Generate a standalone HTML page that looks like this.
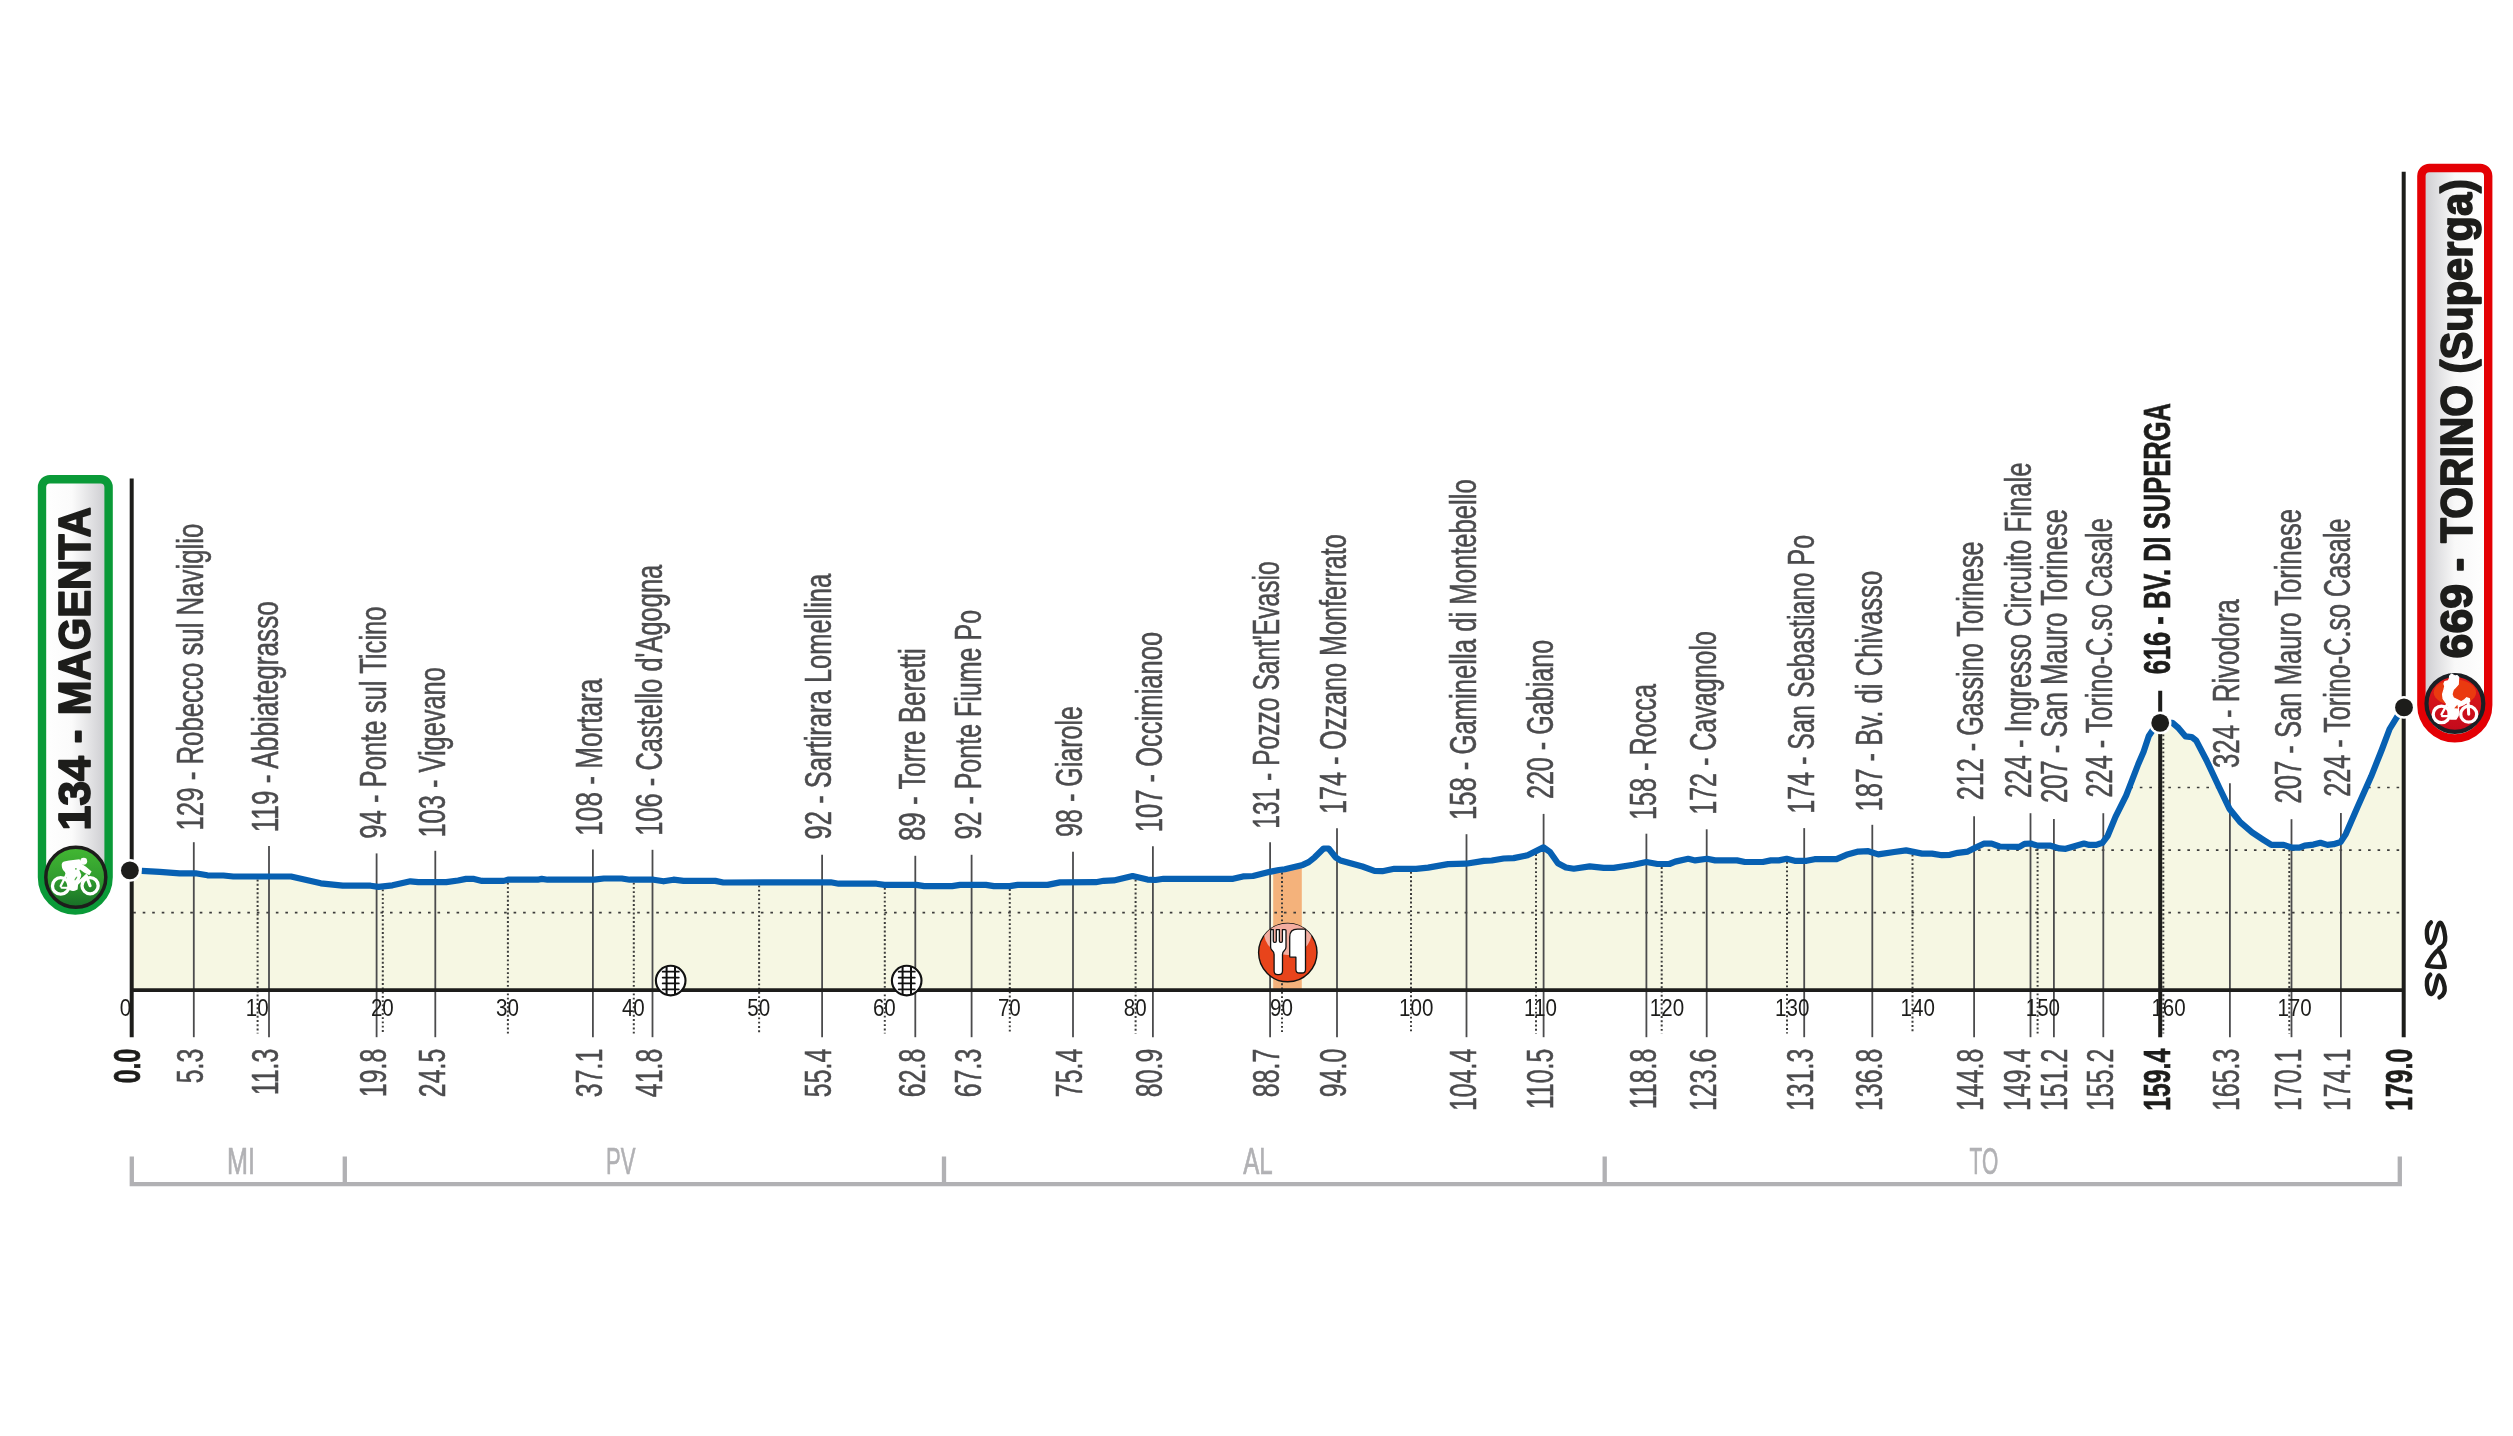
<!DOCTYPE html>
<html><head><meta charset="utf-8"><title>Stage profile</title>
<style>html,body{margin:0;padding:0;background:#fff}svg{display:block}text{font-family:"Liberation Sans",sans-serif}</style>
</head><body>
<svg width="2513" height="1436" viewBox="0 0 2513 1436" style="will-change:transform">
<defs>
<clipPath id="fc"><polygon points="131.7,990.1 131.7,870.5 141.8,870.9 159.7,871.9 179.6,873.3 195.5,873.3 207.4,875.3 223.4,875.5 233.3,876.5 291.0,876.5 320.8,883.3 342.7,885.7 370.6,885.7 378.5,886.9 392.5,885.3 410.4,881.3 418.3,882.1 446.2,882.1 458.1,880.5 466.0,878.9 474.0,878.9 482.0,880.9 503.9,880.9 507.9,879.7 537.7,879.7 541.7,878.9 547.6,879.7 594.0,879.7 603.9,878.5 621.8,878.5 629.7,879.7 653.6,879.7 663.6,881.3 673.5,879.7 683.5,880.9 715.3,880.9 723.3,882.5 830.7,882.3 838.7,883.7 876.5,883.7 884.4,884.9 916.3,884.9 924.2,886.1 952.1,886.1 960.0,884.9 985.9,884.9 993.9,886.1 1009.8,886.1 1017.7,884.9 1047.6,884.9 1060.0,882.4 1095.8,882.2 1103.8,880.8 1113.7,880.4 1132.6,876.0 1147.5,879.6 1155.5,880.0 1163.5,878.8 1233.1,878.8 1243.0,876.4 1253.0,876.0 1270.9,871.6 1278.9,870.0 1284.8,869.2 1302.7,864.9 1308.7,862.1 1314.7,857.3 1323.6,848.5 1328.6,848.5 1335.6,857.3 1340.5,860.5 1362.4,866.5 1374.4,870.8 1382.3,871.2 1394.3,868.8 1416.1,868.8 1428.1,867.6 1448.0,864.1 1465.9,863.7 1483.8,860.9 1491.8,860.5 1503.7,858.5 1513.6,858.1 1527.6,855.3 1543.5,847.4 1550.0,852.0 1557.9,863.2 1565.9,867.5 1573.8,868.7 1589.7,866.4 1603.7,867.9 1613.6,867.9 1633.5,864.8 1646.4,862.0 1657.4,864.0 1669.3,864.0 1675.3,861.6 1688.2,858.8 1695.2,860.4 1707.1,858.8 1715.1,860.4 1737.0,860.4 1744.9,862.0 1762.8,862.0 1770.8,860.4 1778.8,860.4 1786.7,858.8 1794.7,860.8 1806.6,860.8 1814.6,859.2 1836.5,859.2 1846.4,854.8 1858.3,851.6 1868.3,851.2 1878.2,854.4 1894.2,852.0 1906.1,850.4 1922.0,853.6 1932.0,853.6 1941.9,855.2 1949.9,854.8 1957.8,852.8 1967.8,851.6 1975.7,847.6 1983.7,843.7 1991.7,843.7 1999.6,846.5 2019.3,846.9 2024.5,843.9 2030.6,843.5 2037.6,845.6 2049.9,845.6 2059.5,848.4 2065.7,848.8 2077.0,845.6 2084.0,843.5 2089.3,844.9 2096.3,844.9 2102.4,842.8 2107.7,835.8 2115.6,816.6 2126.1,795.6 2138.3,764.0 2143.6,751.8 2148.8,736.0 2152.3,730.8 2160.2,722.9 2172.5,722.9 2178.6,728.2 2185.6,736.4 2191.7,737.1 2196.1,740.4 2206.6,760.5 2218.9,786.8 2229.4,808.7 2239.9,821.8 2252.1,832.3 2262.6,839.3 2271.4,844.9 2283.7,844.9 2292.4,847.7 2299.4,847.7 2304.7,845.6 2313.4,844.6 2320.4,842.8 2327.4,844.9 2333.6,844.2 2340.6,842.0 2345.8,834.1 2357.2,807.8 2371.2,776.3 2381.7,750.0 2389.6,729.0 2396.6,717.6 2401.0,710.5 2403.7,708 2403.7,990.1"/></clipPath>
<linearGradient id="gS" x1="0" y1="0" x2="1" y2="0"><stop offset="0" stop-color="#fff"/><stop offset="0.45" stop-color="#fbfbfb"/><stop offset="1" stop-color="#c9c9cd"/></linearGradient>
<linearGradient id="gF" x1="0" y1="0" x2="1" y2="0"><stop offset="0" stop-color="#c9c9cd"/><stop offset="0.5" stop-color="#f8f8f8"/><stop offset="1" stop-color="#fff"/></linearGradient>
<linearGradient id="gGreen" x1="0" y1="0" x2="0" y2="1"><stop offset="0" stop-color="#43b833"/><stop offset="0.55" stop-color="#2f9a2e"/><stop offset="1" stop-color="#176f27"/></linearGradient>
<linearGradient id="gRed" x1="0" y1="0" x2="0" y2="1"><stop offset="0" stop-color="#e01a1a"/><stop offset="1" stop-color="#c30a1c"/></linearGradient>
</defs>
<rect width="2513" height="1436" fill="#fff"/>
<polygon points="131.7,990.1 131.7,870.5 141.8,870.9 159.7,871.9 179.6,873.3 195.5,873.3 207.4,875.3 223.4,875.5 233.3,876.5 291.0,876.5 320.8,883.3 342.7,885.7 370.6,885.7 378.5,886.9 392.5,885.3 410.4,881.3 418.3,882.1 446.2,882.1 458.1,880.5 466.0,878.9 474.0,878.9 482.0,880.9 503.9,880.9 507.9,879.7 537.7,879.7 541.7,878.9 547.6,879.7 594.0,879.7 603.9,878.5 621.8,878.5 629.7,879.7 653.6,879.7 663.6,881.3 673.5,879.7 683.5,880.9 715.3,880.9 723.3,882.5 830.7,882.3 838.7,883.7 876.5,883.7 884.4,884.9 916.3,884.9 924.2,886.1 952.1,886.1 960.0,884.9 985.9,884.9 993.9,886.1 1009.8,886.1 1017.7,884.9 1047.6,884.9 1060.0,882.4 1095.8,882.2 1103.8,880.8 1113.7,880.4 1132.6,876.0 1147.5,879.6 1155.5,880.0 1163.5,878.8 1233.1,878.8 1243.0,876.4 1253.0,876.0 1270.9,871.6 1278.9,870.0 1284.8,869.2 1302.7,864.9 1308.7,862.1 1314.7,857.3 1323.6,848.5 1328.6,848.5 1335.6,857.3 1340.5,860.5 1362.4,866.5 1374.4,870.8 1382.3,871.2 1394.3,868.8 1416.1,868.8 1428.1,867.6 1448.0,864.1 1465.9,863.7 1483.8,860.9 1491.8,860.5 1503.7,858.5 1513.6,858.1 1527.6,855.3 1543.5,847.4 1550.0,852.0 1557.9,863.2 1565.9,867.5 1573.8,868.7 1589.7,866.4 1603.7,867.9 1613.6,867.9 1633.5,864.8 1646.4,862.0 1657.4,864.0 1669.3,864.0 1675.3,861.6 1688.2,858.8 1695.2,860.4 1707.1,858.8 1715.1,860.4 1737.0,860.4 1744.9,862.0 1762.8,862.0 1770.8,860.4 1778.8,860.4 1786.7,858.8 1794.7,860.8 1806.6,860.8 1814.6,859.2 1836.5,859.2 1846.4,854.8 1858.3,851.6 1868.3,851.2 1878.2,854.4 1894.2,852.0 1906.1,850.4 1922.0,853.6 1932.0,853.6 1941.9,855.2 1949.9,854.8 1957.8,852.8 1967.8,851.6 1975.7,847.6 1983.7,843.7 1991.7,843.7 1999.6,846.5 2019.3,846.9 2024.5,843.9 2030.6,843.5 2037.6,845.6 2049.9,845.6 2059.5,848.4 2065.7,848.8 2077.0,845.6 2084.0,843.5 2089.3,844.9 2096.3,844.9 2102.4,842.8 2107.7,835.8 2115.6,816.6 2126.1,795.6 2138.3,764.0 2143.6,751.8 2148.8,736.0 2152.3,730.8 2160.2,722.9 2172.5,722.9 2178.6,728.2 2185.6,736.4 2191.7,737.1 2196.1,740.4 2206.6,760.5 2218.9,786.8 2229.4,808.7 2239.9,821.8 2252.1,832.3 2262.6,839.3 2271.4,844.9 2283.7,844.9 2292.4,847.7 2299.4,847.7 2304.7,845.6 2313.4,844.6 2320.4,842.8 2327.4,844.9 2333.6,844.2 2340.6,842.0 2345.8,834.1 2357.2,807.8 2371.2,776.3 2381.7,750.0 2389.6,729.0 2396.6,717.6 2401.0,710.5 2403.7,708 2403.7,990.1" fill="#f6f7e3"/>
<g clip-path="url(#fc)">
<rect x="1273.2" y="840" width="28.6" height="160" fill="#f4b27b"/>
<line x1="133.2" y1="787.5" x2="2403.7" y2="787.5" stroke="#3c3c3b" stroke-width="1.7" stroke-dasharray="2.6 6.91"/>
<line x1="133.2" y1="850.2" x2="2403.7" y2="850.2" stroke="#3c3c3b" stroke-width="1.7" stroke-dasharray="2.6 6.91"/>
<line x1="133.2" y1="912.6" x2="2403.7" y2="912.6" stroke="#3c3c3b" stroke-width="1.7" stroke-dasharray="2.6 6.91"/>
</g>
<line x1="257.6" y1="879.5" x2="257.6" y2="1033.5" stroke="#3c3c3b" stroke-width="2.0" stroke-dasharray="1.9 2.36"/>
<line x1="382.8" y1="889.4" x2="382.8" y2="1033.5" stroke="#3c3c3b" stroke-width="2.0" stroke-dasharray="1.9 2.36"/>
<line x1="507.9" y1="882.7" x2="507.9" y2="1033.5" stroke="#3c3c3b" stroke-width="2.0" stroke-dasharray="1.9 2.36"/>
<line x1="633.8" y1="882.7" x2="633.8" y2="1033.5" stroke="#3c3c3b" stroke-width="2.0" stroke-dasharray="1.9 2.36"/>
<line x1="759.1" y1="885.4" x2="759.1" y2="1033.5" stroke="#3c3c3b" stroke-width="2.0" stroke-dasharray="1.9 2.36"/>
<line x1="884.8" y1="887.9" x2="884.8" y2="1033.5" stroke="#3c3c3b" stroke-width="2.0" stroke-dasharray="1.9 2.36"/>
<line x1="1009.8" y1="889.1" x2="1009.8" y2="1033.5" stroke="#3c3c3b" stroke-width="2.0" stroke-dasharray="1.9 2.36"/>
<line x1="1135.6" y1="879.7" x2="1135.6" y2="1033.5" stroke="#3c3c3b" stroke-width="2.0" stroke-dasharray="1.9 2.36"/>
<line x1="1282.0" y1="872.6" x2="1282.0" y2="1033.5" stroke="#3c3c3b" stroke-width="2.0" stroke-dasharray="1.9 2.36"/>
<line x1="1411.0" y1="871.8" x2="1411.0" y2="1033.5" stroke="#3c3c3b" stroke-width="2.0" stroke-dasharray="1.9 2.36"/>
<line x1="1536.0" y1="854.1" x2="1536.0" y2="1033.5" stroke="#3c3c3b" stroke-width="2.0" stroke-dasharray="1.9 2.36"/>
<line x1="1661.7" y1="867.0" x2="1661.7" y2="1033.5" stroke="#3c3c3b" stroke-width="2.0" stroke-dasharray="1.9 2.36"/>
<line x1="1787.0" y1="861.9" x2="1787.0" y2="1033.5" stroke="#3c3c3b" stroke-width="2.0" stroke-dasharray="1.9 2.36"/>
<line x1="1912.5" y1="854.7" x2="1912.5" y2="1033.5" stroke="#3c3c3b" stroke-width="2.0" stroke-dasharray="1.9 2.36"/>
<line x1="2037.6" y1="848.6" x2="2037.6" y2="1033.5" stroke="#3c3c3b" stroke-width="2.0" stroke-dasharray="1.9 2.36"/>
<line x1="2163.3" y1="725.9" x2="2163.3" y2="1033.5" stroke="#3c3c3b" stroke-width="2.0" stroke-dasharray="1.9 2.36"/>
<line x1="2289.3" y1="849.7" x2="2289.3" y2="1033.5" stroke="#3c3c3b" stroke-width="2.0" stroke-dasharray="1.9 2.36"/>
<line x1="193.8" y1="842.2" x2="193.8" y2="1037.2" stroke="#4b4b4d" stroke-width="1.8"/>
<line x1="269.0" y1="846.1" x2="269.0" y2="1037.2" stroke="#4b4b4d" stroke-width="1.8"/>
<line x1="376.6" y1="853.4" x2="376.6" y2="1037.2" stroke="#4b4b4d" stroke-width="1.8"/>
<line x1="435.3" y1="850.8" x2="435.3" y2="1037.2" stroke="#4b4b4d" stroke-width="1.8"/>
<line x1="592.9" y1="849.6" x2="592.9" y2="1037.2" stroke="#4b4b4d" stroke-width="1.8"/>
<line x1="652.5" y1="849.8" x2="652.5" y2="1037.2" stroke="#4b4b4d" stroke-width="1.8"/>
<line x1="822.1" y1="854.8" x2="822.1" y2="1037.2" stroke="#4b4b4d" stroke-width="1.8"/>
<line x1="915.3" y1="855.8" x2="915.3" y2="1037.2" stroke="#4b4b4d" stroke-width="1.8"/>
<line x1="971.6" y1="854.8" x2="971.6" y2="1037.2" stroke="#4b4b4d" stroke-width="1.8"/>
<line x1="1073.0" y1="851.8" x2="1073.0" y2="1037.2" stroke="#4b4b4d" stroke-width="1.8"/>
<line x1="1152.9" y1="846.2" x2="1152.9" y2="1037.2" stroke="#4b4b4d" stroke-width="1.8"/>
<line x1="1270.1" y1="842.2" x2="1270.1" y2="1037.2" stroke="#4b4b4d" stroke-width="1.8"/>
<line x1="1337.0" y1="828.3" x2="1337.0" y2="1037.2" stroke="#4b4b4d" stroke-width="1.8"/>
<line x1="1466.5" y1="834.2" x2="1466.5" y2="1037.2" stroke="#4b4b4d" stroke-width="1.8"/>
<line x1="1543.6" y1="813.9" x2="1543.6" y2="1037.2" stroke="#4b4b4d" stroke-width="1.8"/>
<line x1="1646.4" y1="833.7" x2="1646.4" y2="1037.2" stroke="#4b4b4d" stroke-width="1.8"/>
<line x1="1706.7" y1="829.3" x2="1706.7" y2="1037.2" stroke="#4b4b4d" stroke-width="1.8"/>
<line x1="1804.2" y1="828.1" x2="1804.2" y2="1037.2" stroke="#4b4b4d" stroke-width="1.8"/>
<line x1="1872.3" y1="824.8" x2="1872.3" y2="1037.2" stroke="#4b4b4d" stroke-width="1.8"/>
<line x1="1974.1" y1="816.2" x2="1974.1" y2="1037.2" stroke="#4b4b4d" stroke-width="1.8"/>
<line x1="2030.5" y1="813.2" x2="2030.5" y2="1037.2" stroke="#4b4b4d" stroke-width="1.8"/>
<line x1="2053.9" y1="819.0" x2="2053.9" y2="1037.2" stroke="#4b4b4d" stroke-width="1.8"/>
<line x1="2103.3" y1="813.2" x2="2103.3" y2="1037.2" stroke="#4b4b4d" stroke-width="1.8"/>
<line x1="2160.2" y1="690.8" x2="2160.2" y2="1037.2" stroke="#1d1d1b" stroke-width="4"/>
<line x1="2229.9" y1="783.3" x2="2229.9" y2="1037.2" stroke="#4b4b4d" stroke-width="1.8"/>
<line x1="2291.5" y1="819.2" x2="2291.5" y2="1037.2" stroke="#4b4b4d" stroke-width="1.8"/>
<line x1="2340.9" y1="813.0" x2="2340.9" y2="1037.2" stroke="#4b4b4d" stroke-width="1.8"/>
<polyline points="141.8,870.9 159.7,871.9 179.6,873.3 195.5,873.3 207.4,875.3 223.4,875.5 233.3,876.5 291.0,876.5 320.8,883.3 342.7,885.7 370.6,885.7 378.5,886.9 392.5,885.3 410.4,881.3 418.3,882.1 446.2,882.1 458.1,880.5 466.0,878.9 474.0,878.9 482.0,880.9 503.9,880.9 507.9,879.7 537.7,879.7 541.7,878.9 547.6,879.7 594.0,879.7 603.9,878.5 621.8,878.5 629.7,879.7 653.6,879.7 663.6,881.3 673.5,879.7 683.5,880.9 715.3,880.9 723.3,882.5 830.7,882.3 838.7,883.7 876.5,883.7 884.4,884.9 916.3,884.9 924.2,886.1 952.1,886.1 960.0,884.9 985.9,884.9 993.9,886.1 1009.8,886.1 1017.7,884.9 1047.6,884.9 1060.0,882.4 1095.8,882.2 1103.8,880.8 1113.7,880.4 1132.6,876.0 1147.5,879.6 1155.5,880.0 1163.5,878.8 1233.1,878.8 1243.0,876.4 1253.0,876.0 1270.9,871.6 1278.9,870.0 1284.8,869.2 1302.7,864.9 1308.7,862.1 1314.7,857.3 1323.6,848.5 1328.6,848.5 1335.6,857.3 1340.5,860.5 1362.4,866.5 1374.4,870.8 1382.3,871.2 1394.3,868.8 1416.1,868.8 1428.1,867.6 1448.0,864.1 1465.9,863.7 1483.8,860.9 1491.8,860.5 1503.7,858.5 1513.6,858.1 1527.6,855.3 1543.5,847.4 1550.0,852.0 1557.9,863.2 1565.9,867.5 1573.8,868.7 1589.7,866.4 1603.7,867.9 1613.6,867.9 1633.5,864.8 1646.4,862.0 1657.4,864.0 1669.3,864.0 1675.3,861.6 1688.2,858.8 1695.2,860.4 1707.1,858.8 1715.1,860.4 1737.0,860.4 1744.9,862.0 1762.8,862.0 1770.8,860.4 1778.8,860.4 1786.7,858.8 1794.7,860.8 1806.6,860.8 1814.6,859.2 1836.5,859.2 1846.4,854.8 1858.3,851.6 1868.3,851.2 1878.2,854.4 1894.2,852.0 1906.1,850.4 1922.0,853.6 1932.0,853.6 1941.9,855.2 1949.9,854.8 1957.8,852.8 1967.8,851.6 1975.7,847.6 1983.7,843.7 1991.7,843.7 1999.6,846.5 2019.3,846.9 2024.5,843.9 2030.6,843.5 2037.6,845.6 2049.9,845.6 2059.5,848.4 2065.7,848.8 2077.0,845.6 2084.0,843.5 2089.3,844.9 2096.3,844.9 2102.4,842.8 2107.7,835.8 2115.6,816.6 2126.1,795.6 2138.3,764.0 2143.6,751.8 2148.8,736.0 2152.3,730.8 2160.2,722.9 2172.5,722.9 2178.6,728.2 2185.6,736.4 2191.7,737.1 2196.1,740.4 2206.6,760.5 2218.9,786.8 2229.4,808.7 2239.9,821.8 2252.1,832.3 2262.6,839.3 2271.4,844.9 2283.7,844.9 2292.4,847.7 2299.4,847.7 2304.7,845.6 2313.4,844.6 2320.4,842.8 2327.4,844.9 2333.6,844.2 2340.6,842.0 2345.8,834.1 2357.2,807.8 2371.2,776.3 2381.7,750.0 2389.6,729.0 2396.6,717.6 2401.0,710.5" fill="none" stroke="#0760b2" stroke-width="6.2" stroke-linejoin="round" stroke-linecap="butt"/>
<line x1="131.7" y1="478.5" x2="131.7" y2="1037.2" stroke="#1d1d1b" stroke-width="4"/>
<line x1="2403.7" y1="171.8" x2="2403.7" y2="1037.2" stroke="#1d1d1b" stroke-width="4"/>
<line x1="131.7" y1="990.1" x2="2403.7" y2="990.1" stroke="#1d1d1b" stroke-width="3.8"/>
<circle cx="129.9" cy="870.4" r="11.3" fill="#fff"/><circle cx="129.9" cy="870.4" r="8.9" fill="#1d1d1b"/>
<circle cx="2160.2" cy="722.9" r="11.3" fill="#fff"/><circle cx="2160.2" cy="722.9" r="8.9" fill="#1d1d1b"/>
<circle cx="2404.0" cy="707.4" r="11.3" fill="#fff"/><circle cx="2404.0" cy="707.4" r="8.9" fill="#1d1d1b"/>
<text transform="translate(140.2,1048.7) rotate(-90) scale(0.662,1)" font-size="37.5" font-weight="bold" fill="#1d1d1b" text-anchor="end" stroke="#1d1d1b" stroke-width="0.7">0.0</text>
<text transform="translate(203.1,830.5) rotate(-90) scale(1,1)" font-size="37" font-weight="normal" fill="#4b4b4d" text-anchor="start" textLength="306.8" lengthAdjust="spacingAndGlyphs" stroke="#4b4b4d" stroke-width="0.55">129 - Robecco sul Naviglio</text>
<text transform="translate(203.0,1048.7) rotate(-90) scale(0.668,1)" font-size="37.3" font-weight="normal" fill="#4b4b4d" text-anchor="end" stroke="#4b4b4d" stroke-width="0.55">5.3</text>
<text transform="translate(278.3,832.3) rotate(-90) scale(1,1)" font-size="37" font-weight="normal" fill="#4b4b4d" text-anchor="start" textLength="231.2" lengthAdjust="spacingAndGlyphs" stroke="#4b4b4d" stroke-width="0.55">119 - Abbiategrasso</text>
<text transform="translate(278.2,1048.7) rotate(-90) scale(0.668,1)" font-size="37.3" font-weight="normal" fill="#4b4b4d" text-anchor="end" stroke="#4b4b4d" stroke-width="0.55">11.3</text>
<text transform="translate(385.9,838.7) rotate(-90) scale(1,1)" font-size="37" font-weight="normal" fill="#4b4b4d" text-anchor="start" textLength="232.3" lengthAdjust="spacingAndGlyphs" stroke="#4b4b4d" stroke-width="0.55">94 - Ponte sul Ticino</text>
<text transform="translate(385.8,1048.7) rotate(-90) scale(0.668,1)" font-size="37.3" font-weight="normal" fill="#4b4b4d" text-anchor="end" stroke="#4b4b4d" stroke-width="0.55">19.8</text>
<text transform="translate(444.6,837.5) rotate(-90) scale(1,1)" font-size="37" font-weight="normal" fill="#4b4b4d" text-anchor="start" textLength="170.3" lengthAdjust="spacingAndGlyphs" stroke="#4b4b4d" stroke-width="0.55">103 - Vigevano</text>
<text transform="translate(444.5,1048.7) rotate(-90) scale(0.668,1)" font-size="37.3" font-weight="normal" fill="#4b4b4d" text-anchor="end" stroke="#4b4b4d" stroke-width="0.55">24.5</text>
<text transform="translate(602.2,835.7) rotate(-90) scale(1,1)" font-size="37" font-weight="normal" fill="#4b4b4d" text-anchor="start" textLength="157.0" lengthAdjust="spacingAndGlyphs" stroke="#4b4b4d" stroke-width="0.55">108 - Mortara</text>
<text transform="translate(602.1,1048.7) rotate(-90) scale(0.668,1)" font-size="37.3" font-weight="normal" fill="#4b4b4d" text-anchor="end" stroke="#4b4b4d" stroke-width="0.55">37.1</text>
<text transform="translate(661.8,835.7) rotate(-90) scale(1,1)" font-size="37" font-weight="normal" fill="#4b4b4d" text-anchor="start" textLength="270.9" lengthAdjust="spacingAndGlyphs" stroke="#4b4b4d" stroke-width="0.55">106 - Castello d&#39;Agogna</text>
<text transform="translate(661.7,1048.7) rotate(-90) scale(0.668,1)" font-size="37.3" font-weight="normal" fill="#4b4b4d" text-anchor="end" stroke="#4b4b4d" stroke-width="0.55">41.8</text>
<text transform="translate(831.4,839.4) rotate(-90) scale(1,1)" font-size="37" font-weight="normal" fill="#4b4b4d" text-anchor="start" textLength="265.7" lengthAdjust="spacingAndGlyphs" stroke="#4b4b4d" stroke-width="0.55">92 - Sartirara Lomellina</text>
<text transform="translate(831.3,1048.7) rotate(-90) scale(0.668,1)" font-size="37.3" font-weight="normal" fill="#4b4b4d" text-anchor="end" stroke="#4b4b4d" stroke-width="0.55">55.4</text>
<text transform="translate(924.6,841.1) rotate(-90) scale(1,1)" font-size="37" font-weight="normal" fill="#4b4b4d" text-anchor="start" textLength="192.9" lengthAdjust="spacingAndGlyphs" stroke="#4b4b4d" stroke-width="0.55">89 - Torre Beretti</text>
<text transform="translate(924.5,1048.7) rotate(-90) scale(0.668,1)" font-size="37.3" font-weight="normal" fill="#4b4b4d" text-anchor="end" stroke="#4b4b4d" stroke-width="0.55">62.8</text>
<text transform="translate(980.9,839.4) rotate(-90) scale(1,1)" font-size="37" font-weight="normal" fill="#4b4b4d" text-anchor="start" textLength="229.5" lengthAdjust="spacingAndGlyphs" stroke="#4b4b4d" stroke-width="0.55">92 - Ponte Fiume Po</text>
<text transform="translate(980.8,1048.7) rotate(-90) scale(0.668,1)" font-size="37.3" font-weight="normal" fill="#4b4b4d" text-anchor="end" stroke="#4b4b4d" stroke-width="0.55">67.3</text>
<text transform="translate(1082.3,836.9) rotate(-90) scale(1,1)" font-size="37" font-weight="normal" fill="#4b4b4d" text-anchor="start" textLength="130.8" lengthAdjust="spacingAndGlyphs" stroke="#4b4b4d" stroke-width="0.55">98 - Giarole</text>
<text transform="translate(1082.2,1048.7) rotate(-90) scale(0.668,1)" font-size="37.3" font-weight="normal" fill="#4b4b4d" text-anchor="end" stroke="#4b4b4d" stroke-width="0.55">75.4</text>
<text transform="translate(1162.2,832.3) rotate(-90) scale(1,1)" font-size="37" font-weight="normal" fill="#4b4b4d" text-anchor="start" textLength="200.6" lengthAdjust="spacingAndGlyphs" stroke="#4b4b4d" stroke-width="0.55">107 - Occimianoo</text>
<text transform="translate(1162.1,1048.7) rotate(-90) scale(0.668,1)" font-size="37.3" font-weight="normal" fill="#4b4b4d" text-anchor="end" stroke="#4b4b4d" stroke-width="0.55">80.9</text>
<text transform="translate(1279.4,828.8) rotate(-90) scale(1,1)" font-size="37" font-weight="normal" fill="#4b4b4d" text-anchor="start" textLength="267.4" lengthAdjust="spacingAndGlyphs" stroke="#4b4b4d" stroke-width="0.55">131 - Pozzo Sant&#39;Evasio</text>
<text transform="translate(1279.3,1048.7) rotate(-90) scale(0.668,1)" font-size="37.3" font-weight="normal" fill="#4b4b4d" text-anchor="end" stroke="#4b4b4d" stroke-width="0.55">88.7</text>
<text transform="translate(1346.3,814.1) rotate(-90) scale(1,1)" font-size="37" font-weight="normal" fill="#4b4b4d" text-anchor="start" textLength="279.9" lengthAdjust="spacingAndGlyphs" stroke="#4b4b4d" stroke-width="0.55">174 - Ozzano Monferrato</text>
<text transform="translate(1346.2,1048.7) rotate(-90) scale(0.668,1)" font-size="37.3" font-weight="normal" fill="#4b4b4d" text-anchor="end" stroke="#4b4b4d" stroke-width="0.55">94.0</text>
<text transform="translate(1475.8,820.1) rotate(-90) scale(1,1)" font-size="37" font-weight="normal" fill="#4b4b4d" text-anchor="start" textLength="340.9" lengthAdjust="spacingAndGlyphs" stroke="#4b4b4d" stroke-width="0.55">158 - Gaminella di Montebello</text>
<text transform="translate(1475.7,1048.7) rotate(-90) scale(0.668,1)" font-size="37.3" font-weight="normal" fill="#4b4b4d" text-anchor="end" stroke="#4b4b4d" stroke-width="0.55">104.4</text>
<text transform="translate(1552.9,799.1) rotate(-90) scale(1,1)" font-size="37" font-weight="normal" fill="#4b4b4d" text-anchor="start" textLength="159.4" lengthAdjust="spacingAndGlyphs" stroke="#4b4b4d" stroke-width="0.55">220 - Gabiano</text>
<text transform="translate(1552.8,1048.7) rotate(-90) scale(0.668,1)" font-size="37.3" font-weight="normal" fill="#4b4b4d" text-anchor="end" stroke="#4b4b4d" stroke-width="0.55">110.5</text>
<text transform="translate(1655.7,820.1) rotate(-90) scale(1,1)" font-size="37" font-weight="normal" fill="#4b4b4d" text-anchor="start" textLength="136.1" lengthAdjust="spacingAndGlyphs" stroke="#4b4b4d" stroke-width="0.55">158 - Rocca</text>
<text transform="translate(1655.6,1048.7) rotate(-90) scale(0.668,1)" font-size="37.3" font-weight="normal" fill="#4b4b4d" text-anchor="end" stroke="#4b4b4d" stroke-width="0.55">118.8</text>
<text transform="translate(1716.0,814.8) rotate(-90) scale(1,1)" font-size="37" font-weight="normal" fill="#4b4b4d" text-anchor="start" textLength="183.8" lengthAdjust="spacingAndGlyphs" stroke="#4b4b4d" stroke-width="0.55">172 - Cavagnolo</text>
<text transform="translate(1715.9,1048.7) rotate(-90) scale(0.668,1)" font-size="37.3" font-weight="normal" fill="#4b4b4d" text-anchor="end" stroke="#4b4b4d" stroke-width="0.55">123.6</text>
<text transform="translate(1813.5,813.8) rotate(-90) scale(1,1)" font-size="37" font-weight="normal" fill="#4b4b4d" text-anchor="start" textLength="278.9" lengthAdjust="spacingAndGlyphs" stroke="#4b4b4d" stroke-width="0.55">174 - San Sebastiano Po</text>
<text transform="translate(1813.4,1048.7) rotate(-90) scale(0.668,1)" font-size="37.3" font-weight="normal" fill="#4b4b4d" text-anchor="end" stroke="#4b4b4d" stroke-width="0.55">131.3</text>
<text transform="translate(1881.6,811.4) rotate(-90) scale(1,1)" font-size="37" font-weight="normal" fill="#4b4b4d" text-anchor="start" textLength="240.6" lengthAdjust="spacingAndGlyphs" stroke="#4b4b4d" stroke-width="0.55">187 - Bv. di Chivasso</text>
<text transform="translate(1881.5,1048.7) rotate(-90) scale(0.668,1)" font-size="37.3" font-weight="normal" fill="#4b4b4d" text-anchor="end" stroke="#4b4b4d" stroke-width="0.55">136.8</text>
<text transform="translate(1983.3,800.3) rotate(-90) scale(1,1)" font-size="37" font-weight="normal" fill="#4b4b4d" text-anchor="start" textLength="258.9" lengthAdjust="spacingAndGlyphs" stroke="#4b4b4d" stroke-width="0.55">212 - Gassino Torinese</text>
<text transform="translate(1983.3,1048.7) rotate(-90) scale(0.668,1)" font-size="37.3" font-weight="normal" fill="#4b4b4d" text-anchor="end" stroke="#4b4b4d" stroke-width="0.55">144.8</text>
<text transform="translate(2030.5,798.1) rotate(-90) scale(1,1)" font-size="37" font-weight="normal" fill="#4b4b4d" text-anchor="start" textLength="335.6" lengthAdjust="spacingAndGlyphs" stroke="#4b4b4d" stroke-width="0.55">224 - Ingresso Circuito Finale</text>
<text transform="translate(2030.2,1048.7) rotate(-90) scale(0.668,1)" font-size="37.3" font-weight="normal" fill="#4b4b4d" text-anchor="end" stroke="#4b4b4d" stroke-width="0.55">149.4</text>
<text transform="translate(2066.6,803.1) rotate(-90) scale(1,1)" font-size="37" font-weight="normal" fill="#4b4b4d" text-anchor="start" textLength="294.1" lengthAdjust="spacingAndGlyphs" stroke="#4b4b4d" stroke-width="0.55">207 - San Mauro Torinese</text>
<text transform="translate(2066.5,1048.7) rotate(-90) scale(0.668,1)" font-size="37.3" font-weight="normal" fill="#4b4b4d" text-anchor="end" stroke="#4b4b4d" stroke-width="0.55">151.2</text>
<text transform="translate(2111.9,797.5) rotate(-90) scale(1,1)" font-size="37" font-weight="normal" fill="#4b4b4d" text-anchor="start" textLength="279.3" lengthAdjust="spacingAndGlyphs" stroke="#4b4b4d" stroke-width="0.55">224 - Torino-C.so Casale</text>
<text transform="translate(2112.5,1048.7) rotate(-90) scale(0.668,1)" font-size="37.3" font-weight="normal" fill="#4b4b4d" text-anchor="end" stroke="#4b4b4d" stroke-width="0.55">155.2</text>
<text transform="translate(2169.8,674.3) rotate(-90) scale(1,1)" font-size="37.5" font-weight="bold" fill="#1d1d1b" text-anchor="start" textLength="271.2" lengthAdjust="spacingAndGlyphs" stroke="#1d1d1b" stroke-width="0.7">616 - BV. DI SUPERGA</text>
<text transform="translate(2169.6,1048.7) rotate(-90) scale(0.662,1)" font-size="37.5" font-weight="bold" fill="#1d1d1b" text-anchor="end" stroke="#1d1d1b" stroke-width="0.7">159.4</text>
<text transform="translate(2239.2,768.0) rotate(-90) scale(1,1)" font-size="37" font-weight="normal" fill="#4b4b4d" text-anchor="start" textLength="168.8" lengthAdjust="spacingAndGlyphs" stroke="#4b4b4d" stroke-width="0.55">324 - Rivodora</text>
<text transform="translate(2239.1,1048.7) rotate(-90) scale(0.668,1)" font-size="37.3" font-weight="normal" fill="#4b4b4d" text-anchor="end" stroke="#4b4b4d" stroke-width="0.55">165.3</text>
<text transform="translate(2300.8,803.6) rotate(-90) scale(1,1)" font-size="37" font-weight="normal" fill="#4b4b4d" text-anchor="start" textLength="294.6" lengthAdjust="spacingAndGlyphs" stroke="#4b4b4d" stroke-width="0.55">207 - San Mauro Torinese</text>
<text transform="translate(2300.7,1048.7) rotate(-90) scale(0.668,1)" font-size="37.3" font-weight="normal" fill="#4b4b4d" text-anchor="end" stroke="#4b4b4d" stroke-width="0.55">170.1</text>
<text transform="translate(2350.2,796.8) rotate(-90) scale(1,1)" font-size="37" font-weight="normal" fill="#4b4b4d" text-anchor="start" textLength="278.3" lengthAdjust="spacingAndGlyphs" stroke="#4b4b4d" stroke-width="0.55">224 - Torino-C.so Casale</text>
<text transform="translate(2350.1,1048.7) rotate(-90) scale(0.668,1)" font-size="37.3" font-weight="normal" fill="#4b4b4d" text-anchor="end" stroke="#4b4b4d" stroke-width="0.55">174.1</text>
<text transform="translate(2412.2,1048.7) rotate(-90) scale(0.662,1)" font-size="37.5" font-weight="bold" fill="#1d1d1b" text-anchor="end" stroke="#1d1d1b" stroke-width="0.7">179.0</text>
<text transform="translate(119.8,1015.5) scale(0.83,1)" font-size="24.8" fill="#1d1d1b">0</text>
<text transform="translate(245.7,1015.5) scale(0.83,1)" font-size="24.8" fill="#1d1d1b">10</text>
<text transform="translate(370.9,1015.5) scale(0.83,1)" font-size="24.8" fill="#1d1d1b">20</text>
<text transform="translate(496.0,1015.5) scale(0.83,1)" font-size="24.8" fill="#1d1d1b">30</text>
<text transform="translate(621.9,1015.5) scale(0.83,1)" font-size="24.8" fill="#1d1d1b">40</text>
<text transform="translate(747.2,1015.5) scale(0.83,1)" font-size="24.8" fill="#1d1d1b">50</text>
<text transform="translate(872.9,1015.5) scale(0.83,1)" font-size="24.8" fill="#1d1d1b">60</text>
<text transform="translate(997.9,1015.5) scale(0.83,1)" font-size="24.8" fill="#1d1d1b">70</text>
<text transform="translate(1123.7,1015.5) scale(0.83,1)" font-size="24.8" fill="#1d1d1b">80</text>
<text transform="translate(1270.1,1015.5) scale(0.83,1)" font-size="24.8" fill="#1d1d1b">90</text>
<text transform="translate(1399.1,1015.5) scale(0.83,1)" font-size="24.8" fill="#1d1d1b">100</text>
<text transform="translate(1524.1,1015.5) scale(0.83,1)" font-size="24.8" fill="#1d1d1b">110</text>
<text transform="translate(1649.8,1015.5) scale(0.83,1)" font-size="24.8" fill="#1d1d1b">120</text>
<text transform="translate(1775.1,1015.5) scale(0.83,1)" font-size="24.8" fill="#1d1d1b">130</text>
<text transform="translate(1900.6,1015.5) scale(0.83,1)" font-size="24.8" fill="#1d1d1b">140</text>
<text transform="translate(2025.7,1015.5) scale(0.83,1)" font-size="24.8" fill="#1d1d1b">150</text>
<text transform="translate(2151.4,1015.5) scale(0.83,1)" font-size="24.8" fill="#1d1d1b">160</text>
<text transform="translate(2277.4,1015.5) scale(0.83,1)" font-size="24.8" fill="#1d1d1b">170</text>
<path d="M131.8,1156.5 V1184.2 H2399.8 V1156.5 M344.8,1156.5 V1184.2 M944,1156.5 V1184.2 M1604.7,1156.5 V1184.2" fill="none" stroke="#b1b1b4" stroke-width="4.3"/>
<text x="241" y="1174" font-size="36.5" fill="#b1b1b4" text-anchor="middle" textLength="27.9" lengthAdjust="spacingAndGlyphs" stroke="#b1b1b4" stroke-width="0.7">MI</text>
<text x="620.8" y="1174" font-size="36.5" fill="#b1b1b4" text-anchor="middle" textLength="29.5" lengthAdjust="spacingAndGlyphs" stroke="#b1b1b4" stroke-width="0.7">PV</text>
<text x="1257.9" y="1174" font-size="36.5" fill="#b1b1b4" text-anchor="middle" textLength="29.5" lengthAdjust="spacingAndGlyphs" stroke="#b1b1b4" stroke-width="0.7">AL</text>
<text x="1983.9" y="1174" font-size="36.5" fill="#b1b1b4" text-anchor="middle" textLength="28.7" lengthAdjust="spacingAndGlyphs" stroke="#b1b1b4" stroke-width="0.7">TO</text>
<g id="startbox">
<path d="M50,479.2 H100.6 a8,8 0 0 1 8,8 V877.2 a33.3,33.3 0 0 1 -66.6,0 V487.2 a8,8 0 0 1 8,-8 Z" fill="url(#gS)" stroke="#0a9a38" stroke-width="8.4"/>
<text transform="translate(90.3,830.6) rotate(-90) scale(1,1)" font-size="45" font-weight="bold" fill="#1d1d1b" text-anchor="start" textLength="74.5" lengthAdjust="spacingAndGlyphs" stroke="#1d1d1b" stroke-width="1.7" stroke-linejoin="round">134</text>
<text transform="translate(90.3,736.5) rotate(-90) scale(0.9,1)" font-size="45" font-weight="bold" fill="#1d1d1b" text-anchor="middle" lengthAdjust="spacingAndGlyphs" stroke="#1d1d1b" stroke-width="1.7" stroke-linejoin="round">-</text>
<text transform="translate(90.3,715.2) rotate(-90) scale(1,1)" font-size="45" font-weight="bold" fill="#1d1d1b" text-anchor="start" textLength="208" lengthAdjust="spacingAndGlyphs" stroke="#1d1d1b" stroke-width="1.7" stroke-linejoin="round">MAGENTA</text>
<circle cx="75.8" cy="877.2" r="30.0" fill="url(#gGreen)" stroke="#1d1d1b" stroke-width="3.5"/>
<g fill="none" stroke="#fff" stroke-linecap="round" stroke-linejoin="round">
<circle cx="60.7" cy="885.9" r="8.25" stroke-width="3.3"/><circle cx="90.1" cy="885.7" r="8.1" stroke-width="3.3"/>
<path d="M60.7,885.9 L66.8,874 M61.5,887.6 L72.5,887.8" stroke-width="2.3"/>
<path d="M73.4,887.2 L85.2,876.4" stroke-width="2.6"/>
<path d="M86.2,875.6 L90.1,885.7" stroke-width="3.1"/>
<path d="M67.5,871.8 L78.4,876.2 L73.6,886.8" stroke-width="4.8"/>
</g>
<g fill="#fff">
<circle cx="83.7" cy="861.2" r="3.45"/>
<circle cx="73.4" cy="887.6" r="3.0"/>
<path d="M61.8,866.2 C61.4,863.6 62.4,862.2 64.2,861.6 L69,860.5 L79.3,859.2 C80.8,860.2 81.9,862.3 81.8,864 L86,866.8 L91.6,871.6 L89.3,875.3 L84,872.4 L80,869.4 L78.2,873.2 L71,875 L64.6,871.8 C62.9,870.2 62,868.3 61.8,866.2 Z"/>
</g>
<path d="M66.3,871 L79.7,871 L81.4,875 L78.3,882.5 L77.6,889.6 Q73.5,892 69.6,890 L68.1,882.5 L65.4,874.5 Z" fill="#fff"/>
<ellipse cx="75.9" cy="878.4" rx="2.3" ry="0.75" transform="rotate(-58 75.9 878.4)" fill="#55b04f"/>
<circle cx="75.9" cy="868.9" r="0.8" fill="#3aa62f"/>
</g>
<g id="finishbox">
<path d="M2429.4,168 H2480.2 a8,8 0 0 1 8,8 V705.0 a33.4,33.4 0 0 1 -66.8,0 V176 a8,8 0 0 1 8,-8 Z" fill="url(#gF)" stroke="#e40004" stroke-width="8.4"/>
<text transform="translate(2472.3,658.4) rotate(-90) scale(1,1)" font-size="45" font-weight="bold" fill="#1d1d1b" text-anchor="start" textLength="74.5" lengthAdjust="spacingAndGlyphs" stroke="#1d1d1b" stroke-width="1.7" stroke-linejoin="round">669</text>
<text transform="translate(2472.3,564.8) rotate(-90) scale(0.9,1)" font-size="45" font-weight="bold" fill="#1d1d1b" text-anchor="middle" lengthAdjust="spacingAndGlyphs" stroke="#1d1d1b" stroke-width="1.7" stroke-linejoin="round">-</text>
<text transform="translate(2472.3,543.0) rotate(-90) scale(1,1)" font-size="45" font-weight="bold" fill="#1d1d1b" text-anchor="start" textLength="158" lengthAdjust="spacingAndGlyphs" stroke="#1d1d1b" stroke-width="1.7" stroke-linejoin="round">TORINO</text>
<text transform="translate(2472.3,373.5) rotate(-90) scale(1,1)" font-size="45" font-weight="bold" fill="#1d1d1b" text-anchor="start" textLength="194.5" lengthAdjust="spacingAndGlyphs" stroke="#1d1d1b" stroke-width="1.7" stroke-linejoin="round">(Superga)</text>
<clipPath id="fic"><circle cx="2454.9" cy="703.4" r="28.4"/></clipPath>
<circle cx="2454.9" cy="703.4" r="28.4" fill="url(#gRed)" stroke="#1b1f24" stroke-width="4.2"/>
<ellipse cx="2454.9" cy="692.4" rx="21.2" ry="12.9" fill="#ea3a10" clip-path="url(#fic)"/>
<g fill="none" stroke="#fff" stroke-linecap="round" stroke-linejoin="round">
<circle cx="2441.5" cy="714.4" r="8.3" stroke-width="3.3"/><circle cx="2468.7" cy="714.2" r="8.0" stroke-width="3.3"/>
<path d="M2441.5,714.4 L2447.2,704 M2442.2,716.2 L2451,716.2" stroke-width="2.3"/>
<path d="M2468,701.5 L2468.7,714.2" stroke-width="3.1"/>
</g>
<polygon points="2449.7,675.9 2451.5,674.1 2453.7,675.2 2455.1,676.1 2456.9,675.5 2458.7,677.2 2458.2,684.4 2455.1,687.9 2453.3,689.7 2452.0,694.2 2453.3,697.7 2456.9,699.5 2461.3,701.7 2464.9,699.5 2466.7,697.7 2469.3,698.6 2469.8,701.3 2467.6,702.2 2463.1,704.9 2458.7,706.7 2458.2,715.6 2456.0,719.1 2450.6,719.1 2448.0,715.6 2448.0,706.7 2446.2,703.1 2443.1,698.6 2442.6,694.2 2443.9,689.7 2444.8,686.2 2443.9,683.9 2444.8,681.7 2448.0,680.8 2449.3,679.0" fill="#fff" stroke="#fff" stroke-width="1.2" stroke-linejoin="round"/>
<polygon points="2454.2,708.2 2457.4,704.7 2458.0,708.6" fill="#e23a14"/>
</g>
<g><circle cx="670.7" cy="980.6" r="14.8" fill="#fff" stroke="#111" stroke-width="2.1"/><g stroke="#111" fill="none"><path d="M666.6,966.4 V994.8000000000001 M675.0,966.4 V994.8000000000001" stroke-width="2.0"/><path d="M662.7,971.7 H678.8000000000001 M662.7,977.6 H678.8000000000001 M662.7,983.4 H678.8000000000001 M662.7,989.3000000000001 H678.8000000000001" stroke-width="1.8" stroke-linecap="round"/></g></g>
<g><circle cx="906.7" cy="980.6" r="14.8" fill="#fff" stroke="#111" stroke-width="2.1"/><g stroke="#111" fill="none"><path d="M902.6,966.4 V994.8000000000001 M911.0,966.4 V994.8000000000001" stroke-width="2.0"/><path d="M898.7,971.7 H914.8000000000001 M898.7,977.6 H914.8000000000001 M898.7,983.4 H914.8000000000001 M898.7,989.3000000000001 H914.8000000000001" stroke-width="1.8" stroke-linecap="round"/></g></g>
<g id="feed">
<clipPath id="fdc"><circle cx="1287.8" cy="952.6" r="29.2"/></clipPath>
<circle cx="1287.8" cy="952.6" r="29.2" fill="#e8441b" stroke="#111" stroke-width="1.4"/>
<ellipse cx="1287.8" cy="931.5" rx="24" ry="23.5" fill="#f3ada0" clip-path="url(#fdc)"/>
<path d="M1270.6,929.6 h2.7 v11.5 q0,1.2 1.2,1.2 h0.6 q1.2,0 1.2,-1.2 v-11.5 h3.1 v11.5 q0,1.2 1.2,1.2 h0.6 q1.2,0 1.2,-1.2 v-11.5 h2.7 q0.9,0 0.9,0.9 v16.5 q0,2.2 -1.6,3.6 q-1.9,1.6 -1.9,4 v16.4 q0,3.6 -3.6,3.6 h-1.2 q-3.6,0 -3.6,-3.6 v-16.4 q0,-2.4 -1.9,-4 q-1.6,-1.4 -1.6,-3.6 v-16.5 q0,-0.9 0.9,-0.9 Z" fill="#fff" stroke="#111" stroke-width="1.3" stroke-linejoin="round"/>
<path d="M1297.5,929.2 H1304.6 q0.9,0 0.9,0.9 V969.4 q0,3.6 -3.6,3.6 h-2.4 q-3.6,0 -3.6,-3.6 V957.2 H1290.6 q-0.9,0 -0.9,-0.9 V937 q0,-7.8 7.8,-7.8 Z" fill="#fff" stroke="#111" stroke-width="1.3" stroke-linejoin="round"/>
</g>
<g fill="none" stroke="#1d1d1b" stroke-width="4.4" stroke-linecap="round" stroke-linejoin="round">
<path d="M2430.9,922.4 C2427.5,925 2426.6,930 2426.9,934 C2427,939 2428.5,943.3 2431.2,943 C2434.5,942 2436,932 2437.5,927.2 C2438.5,924 2439.5,922.3 2440.8,923 C2443,925 2444.5,931 2445.2,937 C2445.6,942 2444,946.3 2439.5,948.1"/>
<path d="M2438.2,949.9 C2433,954 2429.5,960 2426.9,965.6 C2433,967.2 2439,967 2444.8,966.9 C2444.2,960 2442.5,954.5 2438.2,949.9 Z"/>
<path d="M2430.2,974.7 C2427.3,977 2426.6,981.5 2426.9,985 C2427.3,990 2429,994.5 2431.6,994 C2434.5,993 2435.3,986 2436.4,982 C2437.3,978.5 2437.8,975.5 2439,975.4 C2441.5,977 2443.5,981.5 2444.6,987 C2445.2,991.5 2443.5,995.3 2439.5,997.4"/>
</g>
</svg>
</body></html>
